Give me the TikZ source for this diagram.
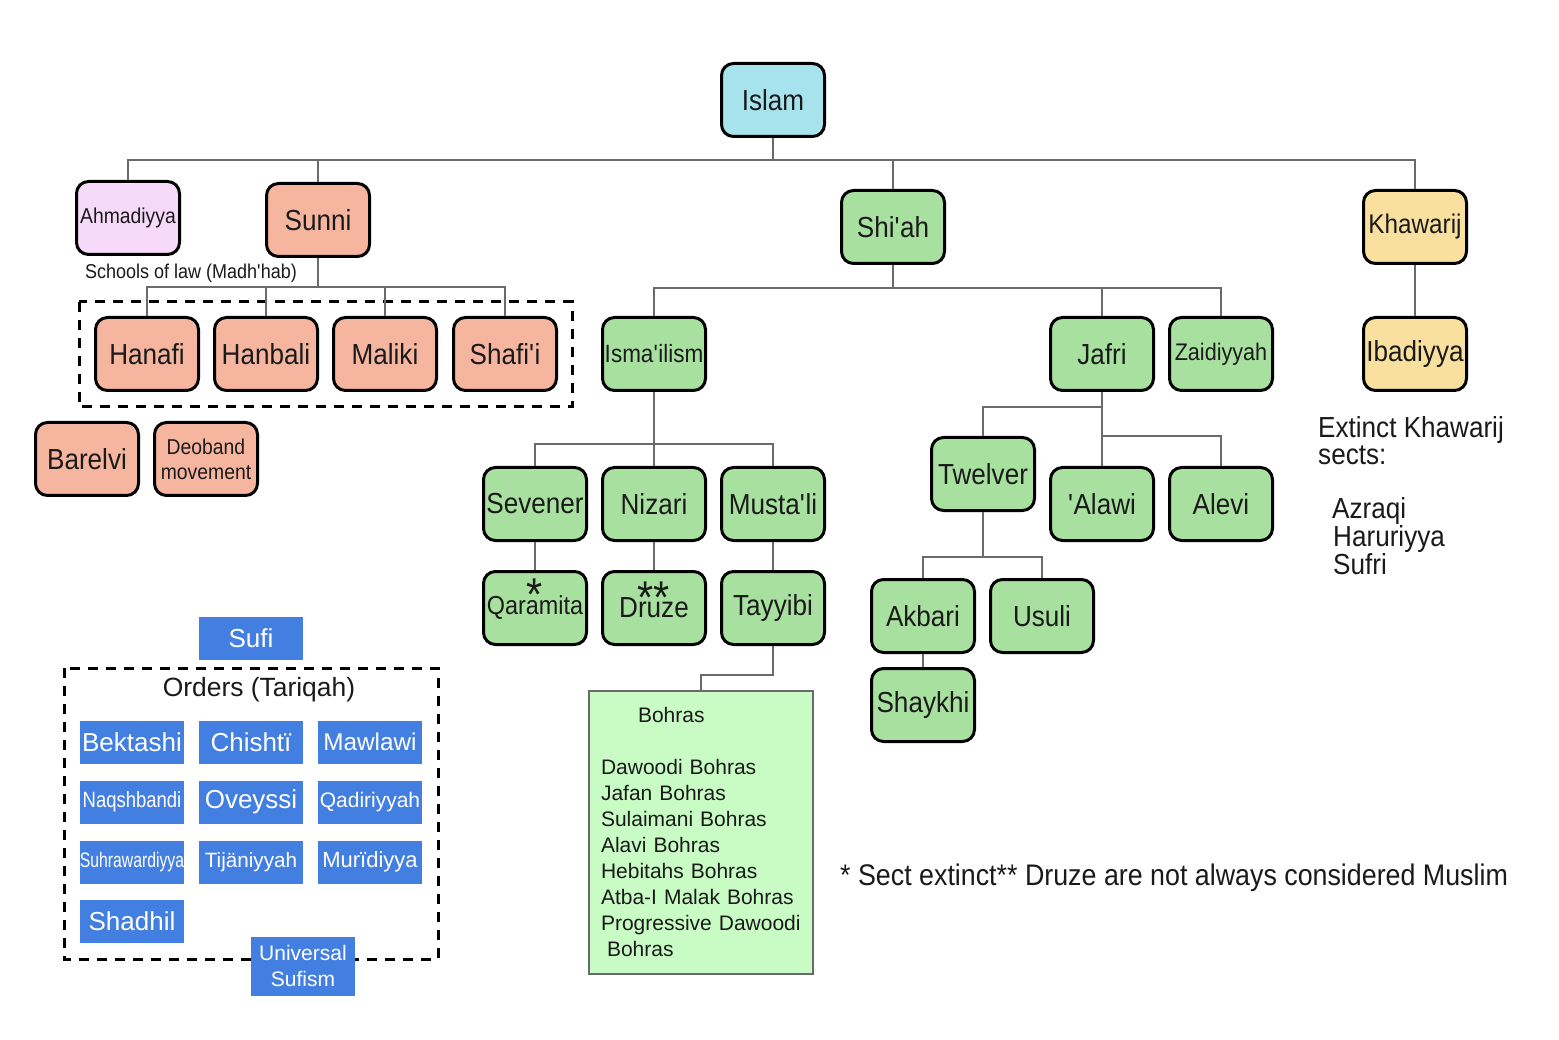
\documentclass[tikz,border=0pt]{standalone}
\usepackage{fontspec}
\usepackage{graphicx}
\setmainfont{Liberation Sans}[FakeStretch=0.9]
\newfontfamily\plainf{Liberation Sans}
\newcommand\ap{\textquotesingle}
\definecolor{cIslam}{HTML}{A7E3EC}
\definecolor{cAhm}{HTML}{F7DAF9}
\definecolor{cSun}{HTML}{F6B59F}
\definecolor{cGrn}{HTML}{A8E09F}
\definecolor{cKha}{HTML}{F9E09E}
\definecolor{cBoh}{HTML}{C8FCC4}
\definecolor{cBlue}{HTML}{437FE0}
\definecolor{cLine}{HTML}{6A6A6A}
\definecolor{cTxt}{HTML}{1A1A1A}
\begin{document}
\begin{tikzpicture}[x=1pt,y=-1pt,
  tbox/.style={draw=black, line width=3pt, rounded corners=12pt, minimum width=103pt,
    minimum height=73pt, inner sep=0pt, text=cTxt, font=\fontsize{29}{33}\selectfont},
  conn/.style={draw=cLine, line width=2pt},
  dashbox/.style={draw=black, line width=3pt, dash pattern=on 10pt off 8pt},
  bbox/.style={fill=cBlue, text=white, minimum width=104pt, minimum height=43pt,
    inner sep=0pt, font=\plainf\fontsize{26}{30}\selectfont},
  plaintext/.style={inner sep=0pt, text=cTxt},
  astx/.style={inner sep=0pt, text=cTxt, anchor=base, font=\fontsize{46}{50}\selectfont}
]
\fill[white] (0,0) rectangle (1559,1040);
\useasboundingbox (0,0) rectangle (1559,1040);

% dashed groups
\draw[dashbox] (79,302) rectangle (572,407);
\draw[dashbox] (64,668) rectangle (438,959);

% top level
\node[tbox, fill=cIslam] (islam) at (773,100) {Islam};
\node[tbox, fill=cAhm, font=\fontsize{21.5}{24}\selectfont] (ahmadiyya) at (128,218) {Ahmadiyya};
\node[tbox, fill=cSun] (sunni) at (318,220) {Sunni};
\node[tbox, fill=cGrn] (shiah) at (893,227) {Shi\ap ah};
\node[tbox, fill=cKha, font=\fontsize{27}{30}\selectfont] (khawarij) at (1415,227) {Khawarij};

% Sunni
\node[plaintext, font=\fontsize{20}{24}\selectfont] (schools) at (191,273) {Schools of law (Madh\ap hab)};
\node[tbox, fill=cSun] (hanafi) at (147,354) {Hanafi};
\node[tbox, fill=cSun] (hanbali) at (266,354) {Hanbali};
\node[tbox, fill=cSun] (maliki) at (385,354) {Maliki};
\node[tbox, fill=cSun] (shafii) at (505,354) {Shafi\ap i};
\node[tbox, fill=cSun] (barelvi) at (87,459) {Barelvi};
\node[tbox, fill=cSun, align=center, font=\fontsize{21.5}{25}\selectfont] (deoband) at (206,459) {Deoband\\movement};

% Shi'ah
\node[tbox, fill=cGrn, font=\fontsize{25}{28}\selectfont] (ismailism) at (654,354) {Isma\ap ilism};
\node[tbox, fill=cGrn] (jafri) at (1102,354) {Jafri};
\node[tbox, fill=cGrn, font=\fontsize{24}{28}\selectfont] (zaidiyyah) at (1221,354) {Zaidiyyah};
\node[tbox, fill=cKha] (ibadiyya) at (1415,354) {Ibadiyya};

\node[tbox, fill=cGrn] (sevener) at (535,504) {Sevener};
\node[tbox, fill=cGrn] (nizari) at (654,504) {Nizari};
\node[tbox, fill=cGrn] (mustali) at (773,504) {Musta\ap li};
\node[tbox, fill=cGrn, font=\fontsize{26}{30}\selectfont] (qaramita) at (535,608) {Qaramita};
\node[tbox, fill=cGrn] (druze) at (654,608) {Druze};
\node[tbox, fill=cGrn] (tayyibi) at (773,608) {Tayyibi};
\node[astx] (ast1) at ([yshift=4pt]qaramita.base) {*};
\node[astx] (ast2) at ([yshift=4pt]druze.base) {**};

\node[draw=cLine, line width=2pt, fill=cBoh, text width=200pt, inner xsep=12pt,
  minimum height=283pt, align=left, text=cTxt,
  font=\plainf\fontsize{21}{26}\selectfont] (bohras) at (701,832)
  {\hyphenpenalty=10000\exhyphenpenalty=10000\hspace*{37pt}Bohras\\[26pt]Dawoodi Bohras\\Jafan Bohras\\Sulaimani Bohras\\Alavi Bohras\\Hebitahs Bohras\\Atba-I Malak Bohras\\Progressive Dawoodi\\\hspace*{6pt}Bohras};

\node[tbox, fill=cGrn] (twelver) at (983,474) {Twelver};
\node[tbox, fill=cGrn] (alawi) at (1102,504) {\ap Alawi};
\node[tbox, fill=cGrn] (alevi) at (1221,504) {Alevi};
\node[tbox, fill=cGrn] (akbari) at (923,616) {Akbari};
\node[tbox, fill=cGrn] (usuli) at (1042,616) {Usuli};
\node[tbox, fill=cGrn] (shaykhi) at (923,705) {Shaykhi};

% Khawarij text
\node[plaintext, align=left, anchor=north west, font=\fontsize{29}{27}\selectfont] (extinct) at (1318,416)
  {Extinct Khawarij\\sects:\\[27pt]\hspace*{14pt}Azraqi\\\hspace*{15pt}Haruriyya\\\hspace*{15pt}Sufri};

\node[plaintext, anchor=west, font=\fontsize{29.8}{33}\selectfont] (note) at (840,878)
  {* Sect extinct** Druze are not always considered Muslim};

% Sufi
\node[bbox] (sufi) at (251,638) {Sufi};
\node[plaintext, font=\plainf\fontsize{26.4}{30}\selectfont] (orders) at (259,690) {Orders (Tariqah)};
\node[bbox] (bektashi) at (132,742) {Bektashi};
\node[bbox] (chishti) at (251,742) {Chisht\"{\i}};
\node[bbox, font=\plainf\fontsize{24.3}{28}\selectfont] (mawlawi) at (370,742) {Mawlawi};
\node[bbox, font=\plainf\fontsize{22}{26}\selectfont] (naqshbandi) at (132,802) {\scalebox{0.84}[1]{Naqshbandi}};
\node[bbox] (oveyssi) at (251,802) {Oveyssi};
\node[bbox, font=\plainf\fontsize{21}{26}\selectfont] (qadiriyyah) at (370,802) {Qadiriyyah};
\node[bbox, font=\plainf\fontsize{21}{26}\selectfont] (suhrawardiyya) at (132,862) {\scalebox{0.75}[1]{Suhrawardiyya}};
\node[bbox, font=\plainf\fontsize{20.7}{26}\selectfont] (tijaniyyah) at (251,862) {Tij\"aniyyah};
\node[bbox, font=\plainf\fontsize{22}{26}\selectfont] (muridiyya) at (370,862) {Mur\"{\i}diyya};
\node[bbox] (shadhil) at (132,921) {Shadhil};
\node[bbox, minimum height=59pt, align=center, font=\plainf\fontsize{21}{26}\selectfont] (universal) at (303,966) {Universal\\Sufism};

% connectors
\draw[conn] (islam.south) -- ++(0,22) coordinate (b0);
\draw[conn] (b0) -| (ahmadiyya.north);
\draw[conn] (b0) -| (sunni.north);
\draw[conn] (b0) -| (shiah.north);
\draw[conn] (b0) -| (khawarij.north);

\draw[conn] (sunni.south) -- ++(0,29) coordinate (b1);
\draw[conn] (b1) -| (hanafi.north);
\draw[conn] (b1) -| (hanbali.north);
\draw[conn] (b1) -| (maliki.north);
\draw[conn] (b1) -| (shafii.north);

\draw[conn] (shiah.south) -- ++(0,23) coordinate (b2);
\draw[conn] (b2) -| (ismailism.north);
\draw[conn] (b2) -| (jafri.north);
\draw[conn] (b2) -| (zaidiyyah.north);
\draw[conn] (khawarij) -- (ibadiyya);

\draw[conn] (ismailism.south) -- ++(0,52) coordinate (b3);
\draw[conn] (b3) -| (sevener.north);
\draw[conn] (b3) -| (nizari.north);
\draw[conn] (b3) -| (mustali.north);
\draw[conn] (sevener) -- (qaramita);
\draw[conn] (nizari) -- (druze);
\draw[conn] (mustali) -- (tayyibi);
\draw[conn] (tayyibi.south) -- ++(0,29) -| (bohras.north);

\draw[conn] (jafri.south) -- ++(0,15) coordinate (b4);
\draw[conn] (b4) -| (twelver.north);
\draw[conn] (jafri.south) -- (alawi.north);
\draw[conn] (jafri.south) ++(0,44) coordinate (b5);
\draw[conn] (b5) -| (alevi.north);

\draw[conn] (twelver.south) -- ++(0,45) coordinate (b6);
\draw[conn] (b6) -| (akbari.north);
\draw[conn] (b6) -| (usuli.north);
\draw[conn] (akbari) -- (shaykhi);
\end{tikzpicture}
\end{document}
